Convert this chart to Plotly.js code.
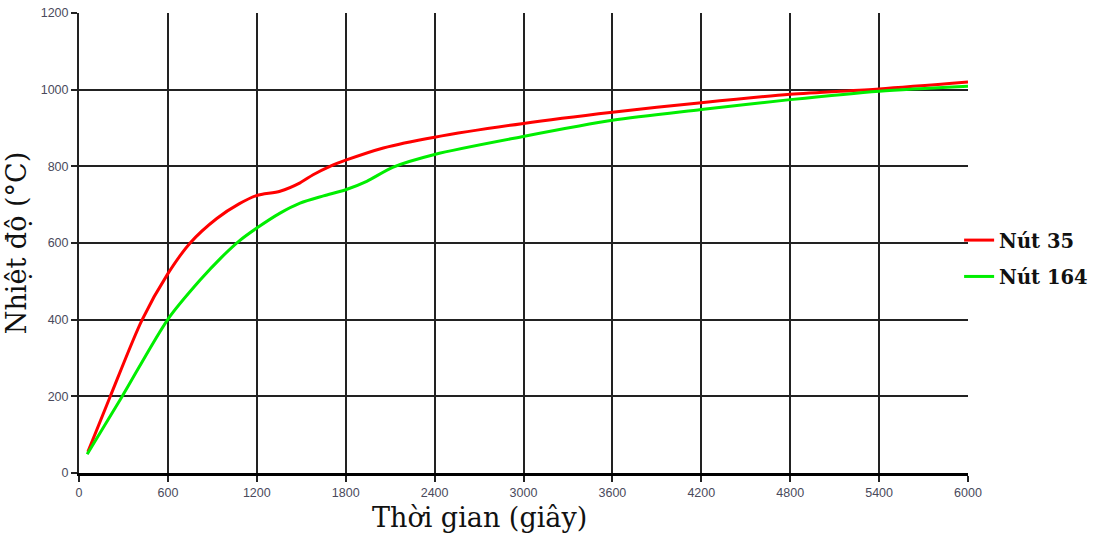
<!DOCTYPE html>
<html>
<head>
<meta charset="utf-8">
<script src="https://cdn.plot.ly/plotly-3.0.1.min.js"></script>
<style>
  html, body { margin: 0; padding: 0; background: #fff; }
  #chart { width: 1097px; height: 533px; }
</style>
</head>
<body>
<div id="chart"></div>
<script>
// Temperature history at two mesh nodes
const node35Time = [60, 210, 425, 600, 750, 930, 1080, 1200, 1357, 1492, 1580, 1694, 1800, 2054, 2400, 3000, 3600, 4200, 4800, 5400, 6000];
const node35Temp = [55, 199, 399, 520, 600, 664, 702, 724, 735, 757, 778, 800, 816, 848, 876, 912, 941, 966, 988, 1002, 1020];

const node164Time = [55, 290, 600, 819, 960, 1080, 1200, 1357, 1492, 1650, 1800, 1942, 2121, 2400, 3000, 3600, 4200, 4800, 5400, 6000];
const node164Temp = [49, 199, 401, 504, 562, 605, 639, 678, 704, 723, 739, 761, 798, 831, 878, 920, 948, 974, 996, 1009];

const xTicks = [0, 600, 1200, 1800, 2400, 3000, 3600, 4200, 4800, 5400, 6000];
const yTicks = [0, 200, 400, 600, 800, 1000, 1200];

const seriesNames = ['Nút 35', 'Nút 164'];
const xTitle = 'Thời gian (giây)';
const yTitle = 'Nhiệt độ (°C)';

const traces = [
  {
    x: node35Time, y: node35Temp, name: seriesNames[0], legendgroup: 'a',
    mode: 'lines', line: { color: '#ff0000', width: 3, shape: 'spline', smoothing: 0.8 }
  },
  {
    x: node164Time, y: node164Temp, name: seriesNames[1], legendgroup: 'b',
    mode: 'lines', line: { color: '#00ee00', width: 3, shape: 'spline', smoothing: 0.8 }
  }
];

const tickFont = { family: 'Liberation Sans, Arial, sans-serif', size: 12.5, color: '#4a4a5c' };
const titleFont = { family: 'DejaVu Serif, serif', size: 27, color: '#111' };

const layout = {
  width: 1097, height: 533,
  margin: { l: 79, r: 129, t: 13, b: 60, autoexpand: false },
  paper_bgcolor: '#fff', plot_bgcolor: '#fff',
  showlegend: true,
  legend: {
    x: 0.99, xanchor: 'left', y: 0.548, yanchor: 'top',
    font: { family: 'DejaVu Serif, serif', size: 19.5, color: '#111', weight: 'bold' },
    tracegroupgap: 8, traceorder: 'grouped',
    bgcolor: 'rgba(0,0,0,0)', itemwidth: 30
  },
  xaxis: {
    range: [0, 6000], tickvals: xTicks, ticktext: xTicks.map(String),
    showgrid: true, gridcolor: '#222', gridwidth: 2,
    showline: true, linecolor: '#000', linewidth: 3,
    ticks: 'outside', ticklen: 6, tickcolor: '#222', tickwidth: 2,
    tickfont: tickFont, zeroline: false
  },
  yaxis: {
    range: [0, 1200], tickvals: yTicks, ticktext: yTicks.map(String),
    showgrid: true, gridcolor: '#222', gridwidth: 2,
    showline: true, linecolor: '#222', linewidth: 2,
    ticks: 'outside', ticklen: 6, tickcolor: '#222', tickwidth: 2,
    tickfont: tickFont, zeroline: false,
    title: { text: yTitle, font: titleFont, standoff: 6 }
  },
  annotations: [
    {
      text: xTitle, xref: 'paper', yref: 'paper', x: 0.451, y: 0,
      xanchor: 'center', yanchor: 'top', yshift: -27, showarrow: false,
      font: titleFont
    }
  ]
};

Plotly.newPlot('chart', traces, layout, { staticPlot: true, displayModeBar: false });
</script>
</body>
</html>
